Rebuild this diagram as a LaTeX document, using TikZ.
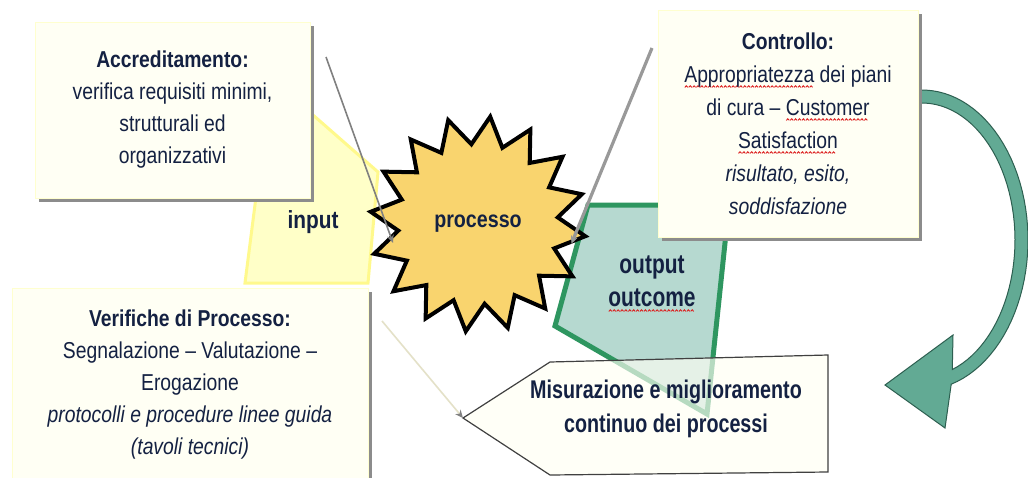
\documentclass[tikz,border=0pt]{standalone}
\usepackage{fontspec}
\setmainfont{Liberation Sans}[FakeStretch=0.84]
\newfontfamily\narrowfont{Liberation Sans}[FakeStretch=0.77]
\usetikzlibrary{arrows.meta,shapes.geometric,shadows}

\definecolor{navy}{RGB}{20,33,66}
\definecolor{cream}{RGB}{255,255,244}
\definecolor{boxshadow}{RGB}{140,140,140}
\definecolor{staryellow}{RGB}{249,212,110}
\definecolor{outfill}{RGB}{182,217,208}
\definecolor{outgreen}{RGB}{46,150,96}
\definecolor{arcfill}{RGB}{98,170,148}
\definecolor{arcline}{RGB}{45,95,80}
\definecolor{inyellow}{RGB}{255,255,200}
\definecolor{squigred}{RGB}{220,30,30}

% red spell-check wave under a word
\newsavebox\sqbox
\newcommand\wavebit{\begin{pgfpicture}\pgfsetlinewidth{0.45pt}\pgfsetstrokecolor{squigred}%
    \pgfpathmoveto{\pgfpoint{0pt}{0pt}}\pgfpathlineto{\pgfpoint{0.75pt}{0.8pt}}%
    \pgfpathlineto{\pgfpoint{1.5pt}{0pt}}\pgfusepath{stroke}\end{pgfpicture}}
\newcommand\squig[1]{\sbox\sqbox{#1}\leavevmode
    \rlap{\raisebox{-2.8pt}[0pt][0pt]{\hbox to\wd\sqbox{\leaders\hbox{\wavebit}\hfill}}}\usebox\sqbox}

\begin{document}
\begin{tikzpicture}[x=0.5pt,y=-0.5pt,
    txt/.style={text=navy,align=center,font=\fontsize{11.5}{16}\selectfont},
    bold/.style={txt,font=\bfseries\fontsize{#1}{16.5}\selectfont},
    note/.style={txt,fill=cream,draw=cream!85!yellow,line width=0.4pt,inner sep=0pt,
        general shadow={fill=boxshadow,shadow xshift=2.2pt,shadow yshift=-2.2pt}},
    pointer/.style={draw=gray,line width=0.8pt,-{Stealth[length=4pt,width=3.5pt]}}]
    \useasboundingbox (0,0) rectangle (1028,477);
    \clip (0,0) rectangle (1028,477);
    \fill[white] (0,0) rectangle (1028,477);

    % input / output areas
    \filldraw[fill=inyellow,draw=yellow!45,line width=1.5pt] (245,283) -- (262,150) -- (305,108) -- (378,172) -- (368,283) -- cycle;
    \node[bold=12.4] (inp) at (313,222) {input};
    \filldraw[fill=outfill,draw=outgreen,line width=2.5pt] (588,205) -- (729,205) -- (707,414) -- (555,326) -- cycle;
    \node[txt,font=\narrowfont\bfseries\fontsize{13.6}{16.5}\selectfont] (out) at (652,281) {output\\\squig{outcome}};

    % miglioramento arrow
    \filldraw[fill=cream,fill opacity=0.65,draw=black!75,line width=0.6pt] (550,362) -- (828,355) -- (828,472) -- (550,475) -- (463,418) coordinate (mtip) -- cycle;
    \node[txt,font=\narrowfont\bfseries\fontsize{12.8}{17}\selectfont] (mis) at (666,409) {Misurazione e miglioramento\\continuo dei processi};

    \node[star,star points=16,star point ratio=1.35,minimum size=108pt,inner sep=0pt,
        shape border rotate=-6.5,draw=black,line width=2pt,fill=staryellow,bold=11.7] (proc) at (478,224) {processo};

    % curved return arrow
    \filldraw[fill=arcfill,draw=arcline,line width=0.5pt]
        plot[domain=95:-74,variable=\t,samples=50] ({922+106*cos(\t)},{240-150*sin(\t)})
        -- (945,428) -- (885,385) -- (953,335)
        -- plot[domain=-71:95,variable=\t,samples=50] ({922+93*cos(\t)},{240-137*sin(\t)}) -- cycle;

    \node[note,minimum width=137.5pt,minimum height=88pt] (acc) at (172.5,110)
        {\textbf{Accreditamento:}\\verifica requisiti minimi,\\strutturali ed\\organizzativi};
    \node[note,minimum width=130pt,minimum height=113.5pt,font=\fontsize{11.5}{16.5}\selectfont] (ctrl) at (788,123.5)
        {\textbf{Controllo:}\\\squig{Appropriatezza} dei piani\\di cura – \squig{Customer}\\\squig{Satisfaction}\\\textit{risultato, esito,}\\\textit{soddisfazione}};
    \node[note,minimum width=178pt,minimum height=97pt] (ver) at (190,385)
        {\textbf{Verifiche di Processo:}\\Segnalazione – Valutazione –\\Erogazione\\\textit{protocolli e procedure linee guida}\\\textit{(tavoli tecnici)}};

    % pointers
    \coordinate (accp) at (326,57);
    \coordinate (accend) at ([shift={(-85,19)}]proc.center);
    \coordinate (ctrlp) at (652,48);
    \coordinate (verp) at (382,321);
    \draw[pointer] (accp) -- (accend);
    \draw[pointer,draw=black!40,line width=1.6pt] (ctrlp) -- (proc.-12);
    \draw[pointer,draw={rgb,255:red,228;green,225;blue,200},-{Stealth[length=4pt,width=3.5pt,color=gray]}] (verp) -- (mtip);
\end{tikzpicture}
\end{document}
